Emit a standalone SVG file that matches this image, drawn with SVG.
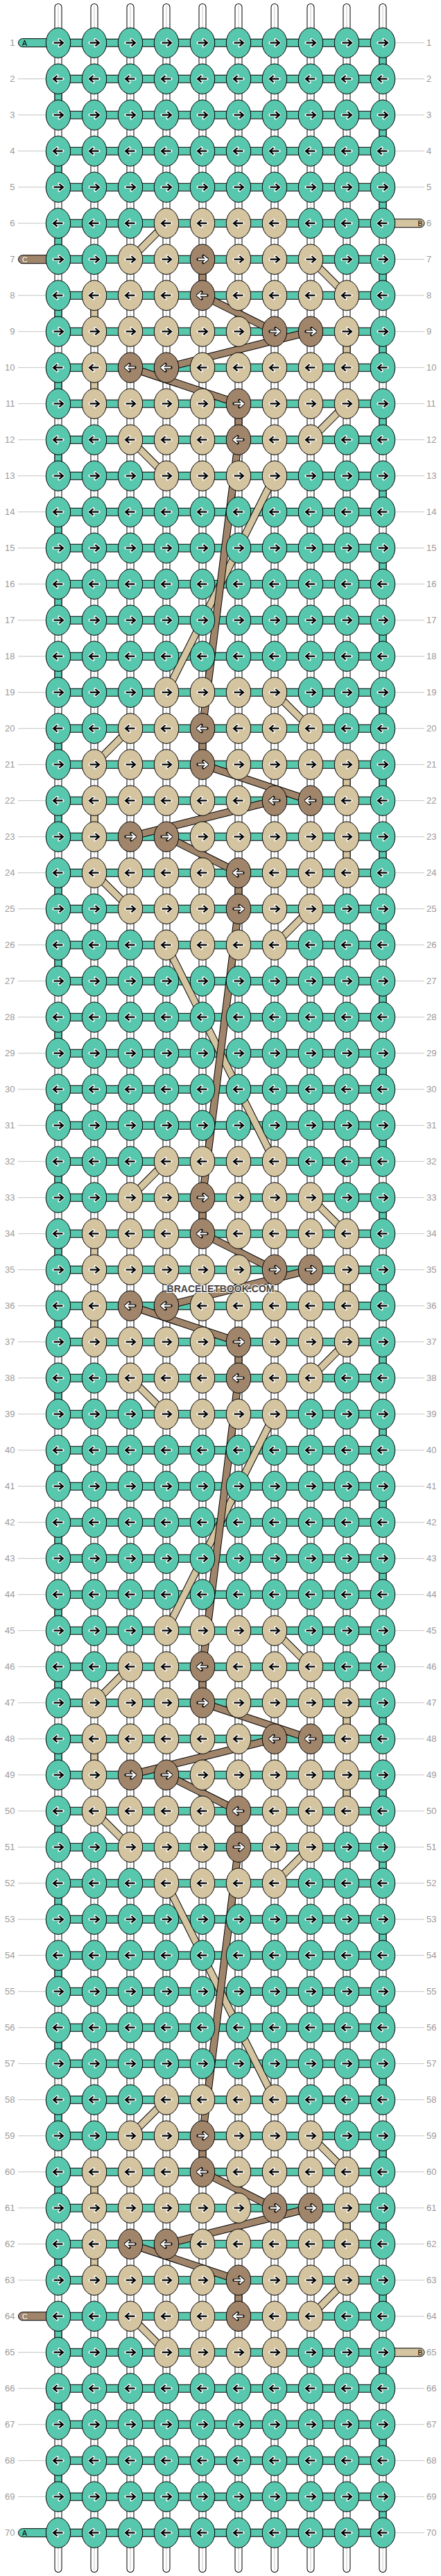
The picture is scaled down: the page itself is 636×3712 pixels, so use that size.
<svg xmlns="http://www.w3.org/2000/svg" xmlns:xlink="http://www.w3.org/1999/xlink" width="636" height="3712" viewBox="0 0 636 3712">
<style>
.lb text{font-family:"Liberation Sans",Arial,sans-serif;font-size:13px;fill:#9a9a9a}
.gl{fill:none;stroke:#c4c4c4;stroke-width:1}
.so{fill:none;stroke:#000;stroke-width:11;stroke-linecap:round}
.si{fill:none;stroke:#fff;stroke-width:9;stroke-linecap:round}
.sc{fill:none;stroke:#c8c8c8;stroke-width:1}
.ho{fill:none;stroke:#000;stroke-width:12}
.hi{fill:none;stroke:#57c7ad;stroke-width:10}
.vo{fill:none;stroke:#000;stroke-width:11}
.vt{fill:none;stroke:#57c7ad;stroke-width:9}
.vb{fill:none;stroke:#d4c4a0;stroke-width:9}
.vc{fill:none;stroke:#a0856b;stroke-width:9}
.stA{fill:#57c7ad;stroke:#000}
.stB{fill:#d4c4a0;stroke:#000}
.stC{fill:#a0856b;stroke:#000}
.st{font-family:"Liberation Sans",Arial,sans-serif;font-size:10.5px}
.et{fill:#57c7ad;stroke:#000}
.eb{fill:#d4c4a0;stroke:#000}
.ec{fill:#a0856b;stroke:#000}
.h{fill:none;stroke:#fff;stroke-width:4.2;stroke-linejoin:round;stroke-linecap:round}
.a{fill:none;stroke:#000;stroke-width:2.2}
.hw{fill:none;stroke:#000;stroke-width:4.2;stroke-linejoin:round;stroke-linecap:round}
.aw{fill:none;stroke:#fff;stroke-width:2.2}
.wm{font-family:"Liberation Sans",Arial,sans-serif;font-size:15px;font-weight:bold;fill:#444;stroke:#fff;stroke-width:2;paint-order:stroke}
</style>
<defs>
<path id="pr" d="M-6.5,0H6.3M1.4,-4.7L7,0L1.4,4.7"/>
<path id="pl" d="M6.5,0H-6.3M-1.4,-4.7L-7,0L-1.4,4.7"/>
<g id="Tr"><ellipse class="et" rx="17.7" ry="21.7"/><use href="#pr" class="h"/><use href="#pr" class="a"/></g>
<g id="Tl"><ellipse class="et" rx="17.7" ry="21.7"/><use href="#pl" class="h"/><use href="#pl" class="a"/></g>
<g id="Br"><ellipse class="eb" rx="17.7" ry="21.7"/><use href="#pr" class="h"/><use href="#pr" class="a"/></g>
<g id="Bl"><ellipse class="eb" rx="17.7" ry="21.7"/><use href="#pl" class="h"/><use href="#pl" class="a"/></g>
<g id="Cr"><ellipse class="ec" rx="17.7" ry="21.7"/><use href="#pr" class="hw"/><use href="#pr" class="aw"/></g>
<g id="Cl"><ellipse class="ec" rx="17.7" ry="21.7"/><use href="#pl" class="hw"/><use href="#pl" class="aw"/></g>
<path id="hpath" d="M84,61.7h468
m-468,52h468m-468,52h468m-468,52h468m-468,52h468m-468,52h468m-468,52h468m-468,52h468m-468,52h468m-468,52h468m-468,52h468
m-468,52h468m-468,52h468m-468,52h468m-468,52h468m-468,52h468m-468,52h468m-468,52h468m-468,52h468m-468,52h468m-468,52h468
m-468,52h468m-468,52h468m-468,52h468m-468,52h468m-468,52h468m-468,52h468m-468,52h468m-468,52h468m-468,52h468m-468,52h468
m-468,52h468m-468,52h468m-468,52h468m-468,52h468m-468,52h468m-468,52h468m-468,52h468m-468,52h468m-468,52h468m-468,52h468
m-468,52h468m-468,52h468m-468,52h468m-468,52h468m-468,52h468m-468,52h468m-468,52h468m-468,52h468m-468,52h468m-468,52h468
m-468,52h468m-468,52h468m-468,52h468m-468,52h468m-468,52h468m-468,52h468m-468,52h468m-468,52h468m-468,52h468m-468,52h468
m-468,52h468m-468,52h468m-468,52h468m-468,52h468m-468,52h468m-468,52h468m-468,52h468m-468,52h468m-468,52h468"/>
<path id="tpath" d="M552,61.7v52
m-468,0v52m468,0v52 m-468,0v52m468,0v52 m-468,0v52m468,0v52 m-468,0v52m468,0v52 m-468,0v52m468,0v52 m-468,0v52m468,0v52 m-468,0v52m468,0v52 m-468,0v52m468,0v52 m-468,0v52m468,0v52 m-468,0v52m468,0v52
m-468,0v52m468,0v52 m-468,0v52m468,0v52 m-468,0v52m468,0v52 m-468,0v52m468,0v52 m-468,0v52m468,0v52 m-468,0v52m468,0v52 m-468,0v52m468,0v52 m-468,0v52m468,0v52 m-468,0v52m468,0v52 m-468,0v52m468,0v52
m-468,0v52m468,0v52 m-468,0v52m468,0v52 m-468,0v52m468,0v52 m-468,0v52m468,0v52 m-468,0v52m468,0v52 m-468,0v52m468,0v52 m-468,0v52m468,0v52 m-468,0v52m468,0v52 m-468,0v52m468,0v52 m-468,0v52m468,0v52
m-468,0v52m468,0v52 m-468,0v52m468,0v52 m-468,0v52m468,0v52 m-468,0v52m468,0v52"/>
<path id="bpath" d="M240,321.7L188,373.7M448,373.7L500,425.7M136,425.7V477.7M500,477.7V529.7M136,529.7V581.7M500,581.7L448,633.7M188,633.7L240,685.7M396,685.7L240,997.7
M396,997.7L448,1049.7M188,1049.7L136,1101.7M500,1101.7V1153.7M136,1153.7V1205.7M500,1205.7V1257.7M136,1257.7L188,1309.7M448,1309.7L396,1361.7M240,1361.7L396,1673.7
M240,1673.7L188,1725.7M448,1725.7L500,1777.7M136,1777.7V1829.7M500,1829.7V1881.7M136,1881.7V1933.7M500,1933.7L448,1985.7M188,1985.7L240,2037.7M396,2037.7L240,2349.7
M396,2349.7L448,2401.7M188,2401.7L136,2453.7M500,2453.7V2505.7M136,2505.7V2557.7M500,2557.7V2609.7M136,2609.7L188,2661.7M448,2661.7L396,2713.7M240,2713.7L396,3025.7
M240,3025.7L188,3077.7M448,3077.7L500,3129.7M136,3129.7V3181.7M500,3181.7V3233.7M136,3233.7V3285.7M500,3285.7L448,3337.7M188,3337.7L240,3389.7"/>
<path id="cpath" d="M292,373.7V425.7L396,477.7M448,477.7L240,529.7M188,529.7L344,581.7V633.7L292,1049.7V1101.7L448,1153.7M396,1153.7L188,1205.7M240,1205.7L344,1257.7V1309.7L292,1725.7V1777.7L396,1829.7M448,1829.7L240,1881.7M188,1881.7L344,1933.7V1985.7L292,2401.7V2453.7L448,2505.7M396,2505.7L188,2557.7M240,2557.7L344,2609.7V2661.7L292,3077.7V3129.7L396,3181.7M448,3181.7L240,3233.7M188,3233.7L344,3285.7V3337.7"/>
</defs>
<rect width="636" height="3712" fill="#fff"/>
<path class="gl" d="M26,61.7h40m504,0h42
m-586,52h40m504,0h42m-586,52h40m504,0h42m-586,52h40m504,0h42m-586,52h40m504,0h42m-586,52h40m504,0h42m-586,52h40m504,0h42m-586,52h40m504,0h42m-586,52h40m504,0h42m-586,52h40m504,0h42m-586,52h40m504,0h42
m-586,52h40m504,0h42m-586,52h40m504,0h42m-586,52h40m504,0h42m-586,52h40m504,0h42m-586,52h40m504,0h42m-586,52h40m504,0h42m-586,52h40m504,0h42m-586,52h40m504,0h42m-586,52h40m504,0h42m-586,52h40m504,0h42
m-586,52h40m504,0h42m-586,52h40m504,0h42m-586,52h40m504,0h42m-586,52h40m504,0h42m-586,52h40m504,0h42m-586,52h40m504,0h42m-586,52h40m504,0h42m-586,52h40m504,0h42m-586,52h40m504,0h42m-586,52h40m504,0h42
m-586,52h40m504,0h42m-586,52h40m504,0h42m-586,52h40m504,0h42m-586,52h40m504,0h42m-586,52h40m504,0h42m-586,52h40m504,0h42m-586,52h40m504,0h42m-586,52h40m504,0h42m-586,52h40m504,0h42m-586,52h40m504,0h42
m-586,52h40m504,0h42m-586,52h40m504,0h42m-586,52h40m504,0h42m-586,52h40m504,0h42m-586,52h40m504,0h42m-586,52h40m504,0h42m-586,52h40m504,0h42m-586,52h40m504,0h42m-586,52h40m504,0h42m-586,52h40m504,0h42
m-586,52h40m504,0h42m-586,52h40m504,0h42m-586,52h40m504,0h42m-586,52h40m504,0h42m-586,52h40m504,0h42m-586,52h40m504,0h42m-586,52h40m504,0h42m-586,52h40m504,0h42m-586,52h40m504,0h42m-586,52h40m504,0h42
m-586,52h40m504,0h42m-586,52h40m504,0h42m-586,52h40m504,0h42m-586,52h40m504,0h42m-586,52h40m504,0h42m-586,52h40m504,0h42m-586,52h40m504,0h42m-586,52h40m504,0h42m-586,52h40m504,0h42"/>
<g class="lb" id="labels-left" text-anchor="end">
<text x="21.5" y="66.2">1</text><text x="21.5" y="118.2">2</text><text x="21.5" y="170.2">3</text><text x="21.5" y="222.2">4</text><text x="21.5" y="274.2">5</text><text x="21.5" y="326.2">6</text><text x="21.5" y="378.2">7</text><text x="21.5" y="430.2">8</text><text x="21.5" y="482.2">9</text><text x="21.5" y="534.2">10</text>
<text x="21.5" y="586.2">11</text><text x="21.5" y="638.2">12</text><text x="21.5" y="690.2">13</text><text x="21.5" y="742.2">14</text><text x="21.5" y="794.2">15</text><text x="21.5" y="846.2">16</text><text x="21.5" y="898.2">17</text><text x="21.5" y="950.2">18</text><text x="21.5" y="1002.2">19</text><text x="21.5" y="1054.2">20</text>
<text x="21.5" y="1106.2">21</text><text x="21.5" y="1158.2">22</text><text x="21.5" y="1210.2">23</text><text x="21.5" y="1262.2">24</text><text x="21.5" y="1314.2">25</text><text x="21.5" y="1366.2">26</text><text x="21.5" y="1418.2">27</text><text x="21.5" y="1470.2">28</text><text x="21.5" y="1522.2">29</text><text x="21.5" y="1574.2">30</text>
<text x="21.5" y="1626.2">31</text><text x="21.5" y="1678.2">32</text><text x="21.5" y="1730.2">33</text><text x="21.5" y="1782.2">34</text><text x="21.5" y="1834.2">35</text><text x="21.5" y="1886.2">36</text><text x="21.5" y="1938.2">37</text><text x="21.5" y="1990.2">38</text><text x="21.5" y="2042.2">39</text><text x="21.5" y="2094.2">40</text>
<text x="21.5" y="2146.2">41</text><text x="21.5" y="2198.2">42</text><text x="21.5" y="2250.2">43</text><text x="21.5" y="2302.2">44</text><text x="21.5" y="2354.2">45</text><text x="21.5" y="2406.2">46</text><text x="21.5" y="2458.2">47</text><text x="21.5" y="2510.2">48</text><text x="21.5" y="2562.2">49</text><text x="21.5" y="2614.2">50</text>
<text x="21.5" y="2666.2">51</text><text x="21.5" y="2718.2">52</text><text x="21.5" y="2770.2">53</text><text x="21.5" y="2822.2">54</text><text x="21.5" y="2874.2">55</text><text x="21.5" y="2926.2">56</text><text x="21.5" y="2978.2">57</text><text x="21.5" y="3030.2">58</text><text x="21.5" y="3082.2">59</text><text x="21.5" y="3134.2">60</text>
<text x="21.5" y="3186.2">61</text><text x="21.5" y="3238.2">62</text><text x="21.5" y="3290.2">63</text><text x="21.5" y="3342.2">64</text><text x="21.5" y="3394.2">65</text><text x="21.5" y="3446.2">66</text><text x="21.5" y="3498.2">67</text><text x="21.5" y="3550.2">68</text><text x="21.5" y="3602.2">69</text><text x="21.5" y="3654.2">70</text>
</g>
<g class="lb" id="labels-right" text-anchor="start">
<text x="615" y="66.2">1</text><text x="615" y="118.2">2</text><text x="615" y="170.2">3</text><text x="615" y="222.2">4</text><text x="615" y="274.2">5</text><text x="615" y="326.2">6</text><text x="615" y="378.2">7</text><text x="615" y="430.2">8</text><text x="615" y="482.2">9</text><text x="615" y="534.2">10</text>
<text x="615" y="586.2">11</text><text x="615" y="638.2">12</text><text x="615" y="690.2">13</text><text x="615" y="742.2">14</text><text x="615" y="794.2">15</text><text x="615" y="846.2">16</text><text x="615" y="898.2">17</text><text x="615" y="950.2">18</text><text x="615" y="1002.2">19</text><text x="615" y="1054.2">20</text>
<text x="615" y="1106.2">21</text><text x="615" y="1158.2">22</text><text x="615" y="1210.2">23</text><text x="615" y="1262.2">24</text><text x="615" y="1314.2">25</text><text x="615" y="1366.2">26</text><text x="615" y="1418.2">27</text><text x="615" y="1470.2">28</text><text x="615" y="1522.2">29</text><text x="615" y="1574.2">30</text>
<text x="615" y="1626.2">31</text><text x="615" y="1678.2">32</text><text x="615" y="1730.2">33</text><text x="615" y="1782.2">34</text><text x="615" y="1834.2">35</text><text x="615" y="1886.2">36</text><text x="615" y="1938.2">37</text><text x="615" y="1990.2">38</text><text x="615" y="2042.2">39</text><text x="615" y="2094.2">40</text>
<text x="615" y="2146.2">41</text><text x="615" y="2198.2">42</text><text x="615" y="2250.2">43</text><text x="615" y="2302.2">44</text><text x="615" y="2354.2">45</text><text x="615" y="2406.2">46</text><text x="615" y="2458.2">47</text><text x="615" y="2510.2">48</text><text x="615" y="2562.2">49</text><text x="615" y="2614.2">50</text>
<text x="615" y="2666.2">51</text><text x="615" y="2718.2">52</text><text x="615" y="2770.2">53</text><text x="615" y="2822.2">54</text><text x="615" y="2874.2">55</text><text x="615" y="2926.2">56</text><text x="615" y="2978.2">57</text><text x="615" y="3030.2">58</text><text x="615" y="3082.2">59</text><text x="615" y="3134.2">60</text>
<text x="615" y="3186.2">61</text><text x="615" y="3238.2">62</text><text x="615" y="3290.2">63</text><text x="615" y="3342.2">64</text><text x="615" y="3394.2">65</text><text x="615" y="3446.2">66</text><text x="615" y="3498.2">67</text><text x="615" y="3550.2">68</text><text x="615" y="3602.2">69</text><text x="615" y="3654.2">70</text>
</g>
<g id="strings">
<path class="so" d="M84,10.5V3701.5M136,10.5V3701.5M188,10.5V3701.5M240,10.5V3701.5M292,10.5V3701.5M344,10.5V3701.5M396,10.5V3701.5M448,10.5V3701.5M500,10.5V3701.5M552,10.5V3701.5"/>
<path class="si" d="M84,10.5V3701.5M136,10.5V3701.5M188,10.5V3701.5M240,10.5V3701.5M292,10.5V3701.5M344,10.5V3701.5M396,10.5V3701.5M448,10.5V3701.5M500,10.5V3701.5M552,10.5V3701.5"/>
<path class="sc" d="M84,8V3704M136,8V3704M188,8V3704M240,8V3704M292,8V3704M344,8V3704M396,8V3704M448,8V3704M500,8V3704M552,8V3704"/>
</g>
<g id="connectors">
<use href="#hpath" class="ho"/><use href="#hpath" class="hi"/>
<use href="#tpath" class="vo"/><use href="#tpath" class="vt"/>
<use href="#bpath" class="vo"/><use href="#bpath" class="vb"/>
<use href="#cpath" class="vo"/><use href="#cpath" class="vc"/>
<g id="stub-A1"><rect class="stA" x="26.5" y="55.7" width="58" height="12" rx="6"/><text class="st" x="32" y="65.6" fill="#000">A</text></g>
<g id="stub-A70"><rect class="stA" x="26.5" y="3643.7" width="58" height="12" rx="6"/><text class="st" x="32" y="3653.6" fill="#000">A</text></g>
<g id="stub-B6"><rect class="stB" x="551.5" y="315.7" width="60.5" height="12" rx="6"/><text class="st" x="609.5" y="325.6" fill="#000" text-anchor="end">B</text></g>
<g id="stub-B65"><rect class="stB" x="551.5" y="3383.7" width="60.5" height="12" rx="6"/><text class="st" x="609.5" y="3393.6" fill="#000" text-anchor="end">B</text></g>
<g id="stub-C7"><rect class="stC" x="26.5" y="367.7" width="58" height="12" rx="6"/><text class="st" x="32" y="377.6" fill="#fff">C</text></g>
<g id="stub-C64"><rect class="stC" x="26.5" y="3331.7" width="58" height="12" rx="6"/><text class="st" x="32" y="3341.6" fill="#fff">C</text></g>
</g>
<g id="knots">
<g transform="translate(0,61.7)"><g id="k1-1"><use href="#Tr" x="84"/></g><g id="k1-2"><use href="#Tr" x="136"/></g><g id="k1-3"><use href="#Tr" x="188"/></g><g id="k1-4"><use href="#Tr" x="240"/></g><g id="k1-5"><use href="#Tr" x="292"/></g><g id="k1-6"><use href="#Tr" x="344"/></g><g id="k1-7"><use href="#Tr" x="396"/></g><g id="k1-8"><use href="#Tr" x="448"/></g><g id="k1-9"><use href="#Tr" x="500"/></g><g id="k1-10"><use href="#Tr" x="552"/></g></g>
<g transform="translate(0,113.7)"><g id="k2-1"><use href="#Tl" x="84"/></g><g id="k2-2"><use href="#Tl" x="136"/></g><g id="k2-3"><use href="#Tl" x="188"/></g><g id="k2-4"><use href="#Tl" x="240"/></g><g id="k2-5"><use href="#Tl" x="292"/></g><g id="k2-6"><use href="#Tl" x="344"/></g><g id="k2-7"><use href="#Tl" x="396"/></g><g id="k2-8"><use href="#Tl" x="448"/></g><g id="k2-9"><use href="#Tl" x="500"/></g><g id="k2-10"><use href="#Tl" x="552"/></g></g>
<g transform="translate(0,165.7)"><g id="k3-1"><use href="#Tr" x="84"/></g><g id="k3-2"><use href="#Tr" x="136"/></g><g id="k3-3"><use href="#Tr" x="188"/></g><g id="k3-4"><use href="#Tr" x="240"/></g><g id="k3-5"><use href="#Tr" x="292"/></g><g id="k3-6"><use href="#Tr" x="344"/></g><g id="k3-7"><use href="#Tr" x="396"/></g><g id="k3-8"><use href="#Tr" x="448"/></g><g id="k3-9"><use href="#Tr" x="500"/></g><g id="k3-10"><use href="#Tr" x="552"/></g></g>
<g transform="translate(0,217.7)"><g id="k4-1"><use href="#Tl" x="84"/></g><g id="k4-2"><use href="#Tl" x="136"/></g><g id="k4-3"><use href="#Tl" x="188"/></g><g id="k4-4"><use href="#Tl" x="240"/></g><g id="k4-5"><use href="#Tl" x="292"/></g><g id="k4-6"><use href="#Tl" x="344"/></g><g id="k4-7"><use href="#Tl" x="396"/></g><g id="k4-8"><use href="#Tl" x="448"/></g><g id="k4-9"><use href="#Tl" x="500"/></g><g id="k4-10"><use href="#Tl" x="552"/></g></g>
<g transform="translate(0,269.7)"><g id="k5-1"><use href="#Tr" x="84"/></g><g id="k5-2"><use href="#Tr" x="136"/></g><g id="k5-3"><use href="#Tr" x="188"/></g><g id="k5-4"><use href="#Tr" x="240"/></g><g id="k5-5"><use href="#Tr" x="292"/></g><g id="k5-6"><use href="#Tr" x="344"/></g><g id="k5-7"><use href="#Tr" x="396"/></g><g id="k5-8"><use href="#Tr" x="448"/></g><g id="k5-9"><use href="#Tr" x="500"/></g><g id="k5-10"><use href="#Tr" x="552"/></g></g>
<g transform="translate(0,321.7)"><g id="k6-1"><use href="#Tl" x="84"/></g><g id="k6-2"><use href="#Tl" x="136"/></g><g id="k6-3"><use href="#Tl" x="188"/></g><g id="k6-4"><use href="#Bl" x="240"/></g><g id="k6-5"><use href="#Bl" x="292"/></g><g id="k6-6"><use href="#Bl" x="344"/></g><g id="k6-7"><use href="#Bl" x="396"/></g><g id="k6-8"><use href="#Tl" x="448"/></g><g id="k6-9"><use href="#Tl" x="500"/></g><g id="k6-10"><use href="#Tl" x="552"/></g></g>
<g transform="translate(0,373.7)"><g id="k7-1"><use href="#Tr" x="84"/></g><g id="k7-2"><use href="#Tr" x="136"/></g><g id="k7-3"><use href="#Br" x="188"/></g><g id="k7-4"><use href="#Br" x="240"/></g><g id="k7-5"><use href="#Cr" x="292"/></g><g id="k7-6"><use href="#Br" x="344"/></g><g id="k7-7"><use href="#Br" x="396"/></g><g id="k7-8"><use href="#Br" x="448"/></g><g id="k7-9"><use href="#Tr" x="500"/></g><g id="k7-10"><use href="#Tr" x="552"/></g></g>
<g transform="translate(0,425.7)"><g id="k8-1"><use href="#Tl" x="84"/></g><g id="k8-2"><use href="#Bl" x="136"/></g><g id="k8-3"><use href="#Bl" x="188"/></g><g id="k8-4"><use href="#Bl" x="240"/></g><g id="k8-5"><use href="#Cl" x="292"/></g><g id="k8-6"><use href="#Bl" x="344"/></g><g id="k8-7"><use href="#Bl" x="396"/></g><g id="k8-8"><use href="#Bl" x="448"/></g><g id="k8-9"><use href="#Bl" x="500"/></g><g id="k8-10"><use href="#Tl" x="552"/></g></g>
<g transform="translate(0,477.7)"><g id="k9-1"><use href="#Tr" x="84"/></g><g id="k9-2"><use href="#Br" x="136"/></g><g id="k9-3"><use href="#Br" x="188"/></g><g id="k9-4"><use href="#Br" x="240"/></g><g id="k9-5"><use href="#Br" x="292"/></g><g id="k9-6"><use href="#Br" x="344"/></g><g id="k9-7"><use href="#Cr" x="396"/></g><g id="k9-8"><use href="#Cr" x="448"/></g><g id="k9-9"><use href="#Br" x="500"/></g><g id="k9-10"><use href="#Tr" x="552"/></g></g>
<g transform="translate(0,529.7)"><g id="k10-1"><use href="#Tl" x="84"/></g><g id="k10-2"><use href="#Bl" x="136"/></g><g id="k10-3"><use href="#Cl" x="188"/></g><g id="k10-4"><use href="#Cl" x="240"/></g><g id="k10-5"><use href="#Bl" x="292"/></g><g id="k10-6"><use href="#Bl" x="344"/></g><g id="k10-7"><use href="#Bl" x="396"/></g><g id="k10-8"><use href="#Bl" x="448"/></g><g id="k10-9"><use href="#Bl" x="500"/></g><g id="k10-10"><use href="#Tl" x="552"/></g></g>
<g transform="translate(0,581.7)"><g id="k11-1"><use href="#Tr" x="84"/></g><g id="k11-2"><use href="#Br" x="136"/></g><g id="k11-3"><use href="#Br" x="188"/></g><g id="k11-4"><use href="#Br" x="240"/></g><g id="k11-5"><use href="#Br" x="292"/></g><g id="k11-6"><use href="#Cr" x="344"/></g><g id="k11-7"><use href="#Br" x="396"/></g><g id="k11-8"><use href="#Br" x="448"/></g><g id="k11-9"><use href="#Br" x="500"/></g><g id="k11-10"><use href="#Tr" x="552"/></g></g>
<g transform="translate(0,633.7)"><g id="k12-1"><use href="#Tl" x="84"/></g><g id="k12-2"><use href="#Tl" x="136"/></g><g id="k12-3"><use href="#Bl" x="188"/></g><g id="k12-4"><use href="#Bl" x="240"/></g><g id="k12-5"><use href="#Bl" x="292"/></g><g id="k12-6"><use href="#Cl" x="344"/></g><g id="k12-7"><use href="#Bl" x="396"/></g><g id="k12-8"><use href="#Bl" x="448"/></g><g id="k12-9"><use href="#Tl" x="500"/></g><g id="k12-10"><use href="#Tl" x="552"/></g></g>
<g transform="translate(0,685.7)"><g id="k13-1"><use href="#Tr" x="84"/></g><g id="k13-2"><use href="#Tr" x="136"/></g><g id="k13-3"><use href="#Tr" x="188"/></g><g id="k13-4"><use href="#Br" x="240"/></g><g id="k13-5"><use href="#Br" x="292"/></g><g id="k13-6"><use href="#Br" x="344"/></g><g id="k13-7"><use href="#Br" x="396"/></g><g id="k13-8"><use href="#Tr" x="448"/></g><g id="k13-9"><use href="#Tr" x="500"/></g><g id="k13-10"><use href="#Tr" x="552"/></g></g>
<g transform="translate(0,737.7)"><g id="k14-1"><use href="#Tl" x="84"/></g><g id="k14-2"><use href="#Tl" x="136"/></g><g id="k14-3"><use href="#Tl" x="188"/></g><g id="k14-4"><use href="#Tl" x="240"/></g><g id="k14-5"><use href="#Tl" x="292"/></g><g id="k14-6"><use href="#Tl" x="344"/></g><g id="k14-7"><use href="#Tl" x="396"/></g><g id="k14-8"><use href="#Tl" x="448"/></g><g id="k14-9"><use href="#Tl" x="500"/></g><g id="k14-10"><use href="#Tl" x="552"/></g></g>
<g transform="translate(0,789.7)"><g id="k15-1"><use href="#Tr" x="84"/></g><g id="k15-2"><use href="#Tr" x="136"/></g><g id="k15-3"><use href="#Tr" x="188"/></g><g id="k15-4"><use href="#Tr" x="240"/></g><g id="k15-5"><use href="#Tr" x="292"/></g><g id="k15-6"><use href="#Tr" x="344"/></g><g id="k15-7"><use href="#Tr" x="396"/></g><g id="k15-8"><use href="#Tr" x="448"/></g><g id="k15-9"><use href="#Tr" x="500"/></g><g id="k15-10"><use href="#Tr" x="552"/></g></g>
<g transform="translate(0,841.7)"><g id="k16-1"><use href="#Tl" x="84"/></g><g id="k16-2"><use href="#Tl" x="136"/></g><g id="k16-3"><use href="#Tl" x="188"/></g><g id="k16-4"><use href="#Tl" x="240"/></g><g id="k16-5"><use href="#Tl" x="292"/></g><g id="k16-6"><use href="#Tl" x="344"/></g><g id="k16-7"><use href="#Tl" x="396"/></g><g id="k16-8"><use href="#Tl" x="448"/></g><g id="k16-9"><use href="#Tl" x="500"/></g><g id="k16-10"><use href="#Tl" x="552"/></g></g>
<g transform="translate(0,893.7)"><g id="k17-1"><use href="#Tr" x="84"/></g><g id="k17-2"><use href="#Tr" x="136"/></g><g id="k17-3"><use href="#Tr" x="188"/></g><g id="k17-4"><use href="#Tr" x="240"/></g><g id="k17-5"><use href="#Tr" x="292"/></g><g id="k17-6"><use href="#Tr" x="344"/></g><g id="k17-7"><use href="#Tr" x="396"/></g><g id="k17-8"><use href="#Tr" x="448"/></g><g id="k17-9"><use href="#Tr" x="500"/></g><g id="k17-10"><use href="#Tr" x="552"/></g></g>
<g transform="translate(0,945.7)"><g id="k18-1"><use href="#Tl" x="84"/></g><g id="k18-2"><use href="#Tl" x="136"/></g><g id="k18-3"><use href="#Tl" x="188"/></g><g id="k18-4"><use href="#Tl" x="240"/></g><g id="k18-5"><use href="#Tl" x="292"/></g><g id="k18-6"><use href="#Tl" x="344"/></g><g id="k18-7"><use href="#Tl" x="396"/></g><g id="k18-8"><use href="#Tl" x="448"/></g><g id="k18-9"><use href="#Tl" x="500"/></g><g id="k18-10"><use href="#Tl" x="552"/></g></g>
<g transform="translate(0,997.7)"><g id="k19-1"><use href="#Tr" x="84"/></g><g id="k19-2"><use href="#Tr" x="136"/></g><g id="k19-3"><use href="#Tr" x="188"/></g><g id="k19-4"><use href="#Br" x="240"/></g><g id="k19-5"><use href="#Br" x="292"/></g><g id="k19-6"><use href="#Br" x="344"/></g><g id="k19-7"><use href="#Br" x="396"/></g><g id="k19-8"><use href="#Tr" x="448"/></g><g id="k19-9"><use href="#Tr" x="500"/></g><g id="k19-10"><use href="#Tr" x="552"/></g></g>
<g transform="translate(0,1049.7)"><g id="k20-1"><use href="#Tl" x="84"/></g><g id="k20-2"><use href="#Tl" x="136"/></g><g id="k20-3"><use href="#Bl" x="188"/></g><g id="k20-4"><use href="#Bl" x="240"/></g><g id="k20-5"><use href="#Cl" x="292"/></g><g id="k20-6"><use href="#Bl" x="344"/></g><g id="k20-7"><use href="#Bl" x="396"/></g><g id="k20-8"><use href="#Bl" x="448"/></g><g id="k20-9"><use href="#Tl" x="500"/></g><g id="k20-10"><use href="#Tl" x="552"/></g></g>
<g transform="translate(0,1101.7)"><g id="k21-1"><use href="#Tr" x="84"/></g><g id="k21-2"><use href="#Br" x="136"/></g><g id="k21-3"><use href="#Br" x="188"/></g><g id="k21-4"><use href="#Br" x="240"/></g><g id="k21-5"><use href="#Cr" x="292"/></g><g id="k21-6"><use href="#Br" x="344"/></g><g id="k21-7"><use href="#Br" x="396"/></g><g id="k21-8"><use href="#Br" x="448"/></g><g id="k21-9"><use href="#Br" x="500"/></g><g id="k21-10"><use href="#Tr" x="552"/></g></g>
<g transform="translate(0,1153.7)"><g id="k22-1"><use href="#Tl" x="84"/></g><g id="k22-2"><use href="#Bl" x="136"/></g><g id="k22-3"><use href="#Bl" x="188"/></g><g id="k22-4"><use href="#Bl" x="240"/></g><g id="k22-5"><use href="#Bl" x="292"/></g><g id="k22-6"><use href="#Bl" x="344"/></g><g id="k22-7"><use href="#Cl" x="396"/></g><g id="k22-8"><use href="#Cl" x="448"/></g><g id="k22-9"><use href="#Bl" x="500"/></g><g id="k22-10"><use href="#Tl" x="552"/></g></g>
<g transform="translate(0,1205.7)"><g id="k23-1"><use href="#Tr" x="84"/></g><g id="k23-2"><use href="#Br" x="136"/></g><g id="k23-3"><use href="#Cr" x="188"/></g><g id="k23-4"><use href="#Cr" x="240"/></g><g id="k23-5"><use href="#Br" x="292"/></g><g id="k23-6"><use href="#Br" x="344"/></g><g id="k23-7"><use href="#Br" x="396"/></g><g id="k23-8"><use href="#Br" x="448"/></g><g id="k23-9"><use href="#Br" x="500"/></g><g id="k23-10"><use href="#Tr" x="552"/></g></g>
<g transform="translate(0,1257.7)"><g id="k24-1"><use href="#Tl" x="84"/></g><g id="k24-2"><use href="#Bl" x="136"/></g><g id="k24-3"><use href="#Bl" x="188"/></g><g id="k24-4"><use href="#Bl" x="240"/></g><g id="k24-5"><use href="#Bl" x="292"/></g><g id="k24-6"><use href="#Cl" x="344"/></g><g id="k24-7"><use href="#Bl" x="396"/></g><g id="k24-8"><use href="#Bl" x="448"/></g><g id="k24-9"><use href="#Bl" x="500"/></g><g id="k24-10"><use href="#Tl" x="552"/></g></g>
<g transform="translate(0,1309.7)"><g id="k25-1"><use href="#Tr" x="84"/></g><g id="k25-2"><use href="#Tr" x="136"/></g><g id="k25-3"><use href="#Br" x="188"/></g><g id="k25-4"><use href="#Br" x="240"/></g><g id="k25-5"><use href="#Br" x="292"/></g><g id="k25-6"><use href="#Cr" x="344"/></g><g id="k25-7"><use href="#Br" x="396"/></g><g id="k25-8"><use href="#Br" x="448"/></g><g id="k25-9"><use href="#Tr" x="500"/></g><g id="k25-10"><use href="#Tr" x="552"/></g></g>
<g transform="translate(0,1361.7)"><g id="k26-1"><use href="#Tl" x="84"/></g><g id="k26-2"><use href="#Tl" x="136"/></g><g id="k26-3"><use href="#Tl" x="188"/></g><g id="k26-4"><use href="#Bl" x="240"/></g><g id="k26-5"><use href="#Bl" x="292"/></g><g id="k26-6"><use href="#Bl" x="344"/></g><g id="k26-7"><use href="#Bl" x="396"/></g><g id="k26-8"><use href="#Tl" x="448"/></g><g id="k26-9"><use href="#Tl" x="500"/></g><g id="k26-10"><use href="#Tl" x="552"/></g></g>
<g transform="translate(0,1413.7)"><g id="k27-1"><use href="#Tr" x="84"/></g><g id="k27-2"><use href="#Tr" x="136"/></g><g id="k27-3"><use href="#Tr" x="188"/></g><g id="k27-4"><use href="#Tr" x="240"/></g><g id="k27-5"><use href="#Tr" x="292"/></g><g id="k27-6"><use href="#Tr" x="344"/></g><g id="k27-7"><use href="#Tr" x="396"/></g><g id="k27-8"><use href="#Tr" x="448"/></g><g id="k27-9"><use href="#Tr" x="500"/></g><g id="k27-10"><use href="#Tr" x="552"/></g></g>
<g transform="translate(0,1465.7)"><g id="k28-1"><use href="#Tl" x="84"/></g><g id="k28-2"><use href="#Tl" x="136"/></g><g id="k28-3"><use href="#Tl" x="188"/></g><g id="k28-4"><use href="#Tl" x="240"/></g><g id="k28-5"><use href="#Tl" x="292"/></g><g id="k28-6"><use href="#Tl" x="344"/></g><g id="k28-7"><use href="#Tl" x="396"/></g><g id="k28-8"><use href="#Tl" x="448"/></g><g id="k28-9"><use href="#Tl" x="500"/></g><g id="k28-10"><use href="#Tl" x="552"/></g></g>
<g transform="translate(0,1517.7)"><g id="k29-1"><use href="#Tr" x="84"/></g><g id="k29-2"><use href="#Tr" x="136"/></g><g id="k29-3"><use href="#Tr" x="188"/></g><g id="k29-4"><use href="#Tr" x="240"/></g><g id="k29-5"><use href="#Tr" x="292"/></g><g id="k29-6"><use href="#Tr" x="344"/></g><g id="k29-7"><use href="#Tr" x="396"/></g><g id="k29-8"><use href="#Tr" x="448"/></g><g id="k29-9"><use href="#Tr" x="500"/></g><g id="k29-10"><use href="#Tr" x="552"/></g></g>
<g transform="translate(0,1569.7)"><g id="k30-1"><use href="#Tl" x="84"/></g><g id="k30-2"><use href="#Tl" x="136"/></g><g id="k30-3"><use href="#Tl" x="188"/></g><g id="k30-4"><use href="#Tl" x="240"/></g><g id="k30-5"><use href="#Tl" x="292"/></g><g id="k30-6"><use href="#Tl" x="344"/></g><g id="k30-7"><use href="#Tl" x="396"/></g><g id="k30-8"><use href="#Tl" x="448"/></g><g id="k30-9"><use href="#Tl" x="500"/></g><g id="k30-10"><use href="#Tl" x="552"/></g></g>
<g transform="translate(0,1621.7)"><g id="k31-1"><use href="#Tr" x="84"/></g><g id="k31-2"><use href="#Tr" x="136"/></g><g id="k31-3"><use href="#Tr" x="188"/></g><g id="k31-4"><use href="#Tr" x="240"/></g><g id="k31-5"><use href="#Tr" x="292"/></g><g id="k31-6"><use href="#Tr" x="344"/></g><g id="k31-7"><use href="#Tr" x="396"/></g><g id="k31-8"><use href="#Tr" x="448"/></g><g id="k31-9"><use href="#Tr" x="500"/></g><g id="k31-10"><use href="#Tr" x="552"/></g></g>
<g transform="translate(0,1673.7)"><g id="k32-1"><use href="#Tl" x="84"/></g><g id="k32-2"><use href="#Tl" x="136"/></g><g id="k32-3"><use href="#Tl" x="188"/></g><g id="k32-4"><use href="#Bl" x="240"/></g><g id="k32-5"><use href="#Bl" x="292"/></g><g id="k32-6"><use href="#Bl" x="344"/></g><g id="k32-7"><use href="#Bl" x="396"/></g><g id="k32-8"><use href="#Tl" x="448"/></g><g id="k32-9"><use href="#Tl" x="500"/></g><g id="k32-10"><use href="#Tl" x="552"/></g></g>
<g transform="translate(0,1725.7)"><g id="k33-1"><use href="#Tr" x="84"/></g><g id="k33-2"><use href="#Tr" x="136"/></g><g id="k33-3"><use href="#Br" x="188"/></g><g id="k33-4"><use href="#Br" x="240"/></g><g id="k33-5"><use href="#Cr" x="292"/></g><g id="k33-6"><use href="#Br" x="344"/></g><g id="k33-7"><use href="#Br" x="396"/></g><g id="k33-8"><use href="#Br" x="448"/></g><g id="k33-9"><use href="#Tr" x="500"/></g><g id="k33-10"><use href="#Tr" x="552"/></g></g>
<g transform="translate(0,1777.7)"><g id="k34-1"><use href="#Tl" x="84"/></g><g id="k34-2"><use href="#Bl" x="136"/></g><g id="k34-3"><use href="#Bl" x="188"/></g><g id="k34-4"><use href="#Bl" x="240"/></g><g id="k34-5"><use href="#Cl" x="292"/></g><g id="k34-6"><use href="#Bl" x="344"/></g><g id="k34-7"><use href="#Bl" x="396"/></g><g id="k34-8"><use href="#Bl" x="448"/></g><g id="k34-9"><use href="#Bl" x="500"/></g><g id="k34-10"><use href="#Tl" x="552"/></g></g>
<g transform="translate(0,1829.7)"><g id="k35-1"><use href="#Tr" x="84"/></g><g id="k35-2"><use href="#Br" x="136"/></g><g id="k35-3"><use href="#Br" x="188"/></g><g id="k35-4"><use href="#Br" x="240"/></g><g id="k35-5"><use href="#Br" x="292"/></g><g id="k35-6"><use href="#Br" x="344"/></g><g id="k35-7"><use href="#Cr" x="396"/></g><g id="k35-8"><use href="#Cr" x="448"/></g><g id="k35-9"><use href="#Br" x="500"/></g><g id="k35-10"><use href="#Tr" x="552"/></g></g>
<g transform="translate(0,1881.7)"><g id="k36-1"><use href="#Tl" x="84"/></g><g id="k36-2"><use href="#Bl" x="136"/></g><g id="k36-3"><use href="#Cl" x="188"/></g><g id="k36-4"><use href="#Cl" x="240"/></g><g id="k36-5"><use href="#Bl" x="292"/></g><g id="k36-6"><use href="#Bl" x="344"/></g><g id="k36-7"><use href="#Bl" x="396"/></g><g id="k36-8"><use href="#Bl" x="448"/></g><g id="k36-9"><use href="#Bl" x="500"/></g><g id="k36-10"><use href="#Tl" x="552"/></g></g>
<g transform="translate(0,1933.7)"><g id="k37-1"><use href="#Tr" x="84"/></g><g id="k37-2"><use href="#Br" x="136"/></g><g id="k37-3"><use href="#Br" x="188"/></g><g id="k37-4"><use href="#Br" x="240"/></g><g id="k37-5"><use href="#Br" x="292"/></g><g id="k37-6"><use href="#Cr" x="344"/></g><g id="k37-7"><use href="#Br" x="396"/></g><g id="k37-8"><use href="#Br" x="448"/></g><g id="k37-9"><use href="#Br" x="500"/></g><g id="k37-10"><use href="#Tr" x="552"/></g></g>
<g transform="translate(0,1985.7)"><g id="k38-1"><use href="#Tl" x="84"/></g><g id="k38-2"><use href="#Tl" x="136"/></g><g id="k38-3"><use href="#Bl" x="188"/></g><g id="k38-4"><use href="#Bl" x="240"/></g><g id="k38-5"><use href="#Bl" x="292"/></g><g id="k38-6"><use href="#Cl" x="344"/></g><g id="k38-7"><use href="#Bl" x="396"/></g><g id="k38-8"><use href="#Bl" x="448"/></g><g id="k38-9"><use href="#Tl" x="500"/></g><g id="k38-10"><use href="#Tl" x="552"/></g></g>
<g transform="translate(0,2037.7)"><g id="k39-1"><use href="#Tr" x="84"/></g><g id="k39-2"><use href="#Tr" x="136"/></g><g id="k39-3"><use href="#Tr" x="188"/></g><g id="k39-4"><use href="#Br" x="240"/></g><g id="k39-5"><use href="#Br" x="292"/></g><g id="k39-6"><use href="#Br" x="344"/></g><g id="k39-7"><use href="#Br" x="396"/></g><g id="k39-8"><use href="#Tr" x="448"/></g><g id="k39-9"><use href="#Tr" x="500"/></g><g id="k39-10"><use href="#Tr" x="552"/></g></g>
<g transform="translate(0,2089.7)"><g id="k40-1"><use href="#Tl" x="84"/></g><g id="k40-2"><use href="#Tl" x="136"/></g><g id="k40-3"><use href="#Tl" x="188"/></g><g id="k40-4"><use href="#Tl" x="240"/></g><g id="k40-5"><use href="#Tl" x="292"/></g><g id="k40-6"><use href="#Tl" x="344"/></g><g id="k40-7"><use href="#Tl" x="396"/></g><g id="k40-8"><use href="#Tl" x="448"/></g><g id="k40-9"><use href="#Tl" x="500"/></g><g id="k40-10"><use href="#Tl" x="552"/></g></g>
<g transform="translate(0,2141.7)"><g id="k41-1"><use href="#Tr" x="84"/></g><g id="k41-2"><use href="#Tr" x="136"/></g><g id="k41-3"><use href="#Tr" x="188"/></g><g id="k41-4"><use href="#Tr" x="240"/></g><g id="k41-5"><use href="#Tr" x="292"/></g><g id="k41-6"><use href="#Tr" x="344"/></g><g id="k41-7"><use href="#Tr" x="396"/></g><g id="k41-8"><use href="#Tr" x="448"/></g><g id="k41-9"><use href="#Tr" x="500"/></g><g id="k41-10"><use href="#Tr" x="552"/></g></g>
<g transform="translate(0,2193.7)"><g id="k42-1"><use href="#Tl" x="84"/></g><g id="k42-2"><use href="#Tl" x="136"/></g><g id="k42-3"><use href="#Tl" x="188"/></g><g id="k42-4"><use href="#Tl" x="240"/></g><g id="k42-5"><use href="#Tl" x="292"/></g><g id="k42-6"><use href="#Tl" x="344"/></g><g id="k42-7"><use href="#Tl" x="396"/></g><g id="k42-8"><use href="#Tl" x="448"/></g><g id="k42-9"><use href="#Tl" x="500"/></g><g id="k42-10"><use href="#Tl" x="552"/></g></g>
<g transform="translate(0,2245.7)"><g id="k43-1"><use href="#Tr" x="84"/></g><g id="k43-2"><use href="#Tr" x="136"/></g><g id="k43-3"><use href="#Tr" x="188"/></g><g id="k43-4"><use href="#Tr" x="240"/></g><g id="k43-5"><use href="#Tr" x="292"/></g><g id="k43-6"><use href="#Tr" x="344"/></g><g id="k43-7"><use href="#Tr" x="396"/></g><g id="k43-8"><use href="#Tr" x="448"/></g><g id="k43-9"><use href="#Tr" x="500"/></g><g id="k43-10"><use href="#Tr" x="552"/></g></g>
<g transform="translate(0,2297.7)"><g id="k44-1"><use href="#Tl" x="84"/></g><g id="k44-2"><use href="#Tl" x="136"/></g><g id="k44-3"><use href="#Tl" x="188"/></g><g id="k44-4"><use href="#Tl" x="240"/></g><g id="k44-5"><use href="#Tl" x="292"/></g><g id="k44-6"><use href="#Tl" x="344"/></g><g id="k44-7"><use href="#Tl" x="396"/></g><g id="k44-8"><use href="#Tl" x="448"/></g><g id="k44-9"><use href="#Tl" x="500"/></g><g id="k44-10"><use href="#Tl" x="552"/></g></g>
<g transform="translate(0,2349.7)"><g id="k45-1"><use href="#Tr" x="84"/></g><g id="k45-2"><use href="#Tr" x="136"/></g><g id="k45-3"><use href="#Tr" x="188"/></g><g id="k45-4"><use href="#Br" x="240"/></g><g id="k45-5"><use href="#Br" x="292"/></g><g id="k45-6"><use href="#Br" x="344"/></g><g id="k45-7"><use href="#Br" x="396"/></g><g id="k45-8"><use href="#Tr" x="448"/></g><g id="k45-9"><use href="#Tr" x="500"/></g><g id="k45-10"><use href="#Tr" x="552"/></g></g>
<g transform="translate(0,2401.7)"><g id="k46-1"><use href="#Tl" x="84"/></g><g id="k46-2"><use href="#Tl" x="136"/></g><g id="k46-3"><use href="#Bl" x="188"/></g><g id="k46-4"><use href="#Bl" x="240"/></g><g id="k46-5"><use href="#Cl" x="292"/></g><g id="k46-6"><use href="#Bl" x="344"/></g><g id="k46-7"><use href="#Bl" x="396"/></g><g id="k46-8"><use href="#Bl" x="448"/></g><g id="k46-9"><use href="#Tl" x="500"/></g><g id="k46-10"><use href="#Tl" x="552"/></g></g>
<g transform="translate(0,2453.7)"><g id="k47-1"><use href="#Tr" x="84"/></g><g id="k47-2"><use href="#Br" x="136"/></g><g id="k47-3"><use href="#Br" x="188"/></g><g id="k47-4"><use href="#Br" x="240"/></g><g id="k47-5"><use href="#Cr" x="292"/></g><g id="k47-6"><use href="#Br" x="344"/></g><g id="k47-7"><use href="#Br" x="396"/></g><g id="k47-8"><use href="#Br" x="448"/></g><g id="k47-9"><use href="#Br" x="500"/></g><g id="k47-10"><use href="#Tr" x="552"/></g></g>
<g transform="translate(0,2505.7)"><g id="k48-1"><use href="#Tl" x="84"/></g><g id="k48-2"><use href="#Bl" x="136"/></g><g id="k48-3"><use href="#Bl" x="188"/></g><g id="k48-4"><use href="#Bl" x="240"/></g><g id="k48-5"><use href="#Bl" x="292"/></g><g id="k48-6"><use href="#Bl" x="344"/></g><g id="k48-7"><use href="#Cl" x="396"/></g><g id="k48-8"><use href="#Cl" x="448"/></g><g id="k48-9"><use href="#Bl" x="500"/></g><g id="k48-10"><use href="#Tl" x="552"/></g></g>
<g transform="translate(0,2557.7)"><g id="k49-1"><use href="#Tr" x="84"/></g><g id="k49-2"><use href="#Br" x="136"/></g><g id="k49-3"><use href="#Cr" x="188"/></g><g id="k49-4"><use href="#Cr" x="240"/></g><g id="k49-5"><use href="#Br" x="292"/></g><g id="k49-6"><use href="#Br" x="344"/></g><g id="k49-7"><use href="#Br" x="396"/></g><g id="k49-8"><use href="#Br" x="448"/></g><g id="k49-9"><use href="#Br" x="500"/></g><g id="k49-10"><use href="#Tr" x="552"/></g></g>
<g transform="translate(0,2609.7)"><g id="k50-1"><use href="#Tl" x="84"/></g><g id="k50-2"><use href="#Bl" x="136"/></g><g id="k50-3"><use href="#Bl" x="188"/></g><g id="k50-4"><use href="#Bl" x="240"/></g><g id="k50-5"><use href="#Bl" x="292"/></g><g id="k50-6"><use href="#Cl" x="344"/></g><g id="k50-7"><use href="#Bl" x="396"/></g><g id="k50-8"><use href="#Bl" x="448"/></g><g id="k50-9"><use href="#Bl" x="500"/></g><g id="k50-10"><use href="#Tl" x="552"/></g></g>
<g transform="translate(0,2661.7)"><g id="k51-1"><use href="#Tr" x="84"/></g><g id="k51-2"><use href="#Tr" x="136"/></g><g id="k51-3"><use href="#Br" x="188"/></g><g id="k51-4"><use href="#Br" x="240"/></g><g id="k51-5"><use href="#Br" x="292"/></g><g id="k51-6"><use href="#Cr" x="344"/></g><g id="k51-7"><use href="#Br" x="396"/></g><g id="k51-8"><use href="#Br" x="448"/></g><g id="k51-9"><use href="#Tr" x="500"/></g><g id="k51-10"><use href="#Tr" x="552"/></g></g>
<g transform="translate(0,2713.7)"><g id="k52-1"><use href="#Tl" x="84"/></g><g id="k52-2"><use href="#Tl" x="136"/></g><g id="k52-3"><use href="#Tl" x="188"/></g><g id="k52-4"><use href="#Bl" x="240"/></g><g id="k52-5"><use href="#Bl" x="292"/></g><g id="k52-6"><use href="#Bl" x="344"/></g><g id="k52-7"><use href="#Bl" x="396"/></g><g id="k52-8"><use href="#Tl" x="448"/></g><g id="k52-9"><use href="#Tl" x="500"/></g><g id="k52-10"><use href="#Tl" x="552"/></g></g>
<g transform="translate(0,2765.7)"><g id="k53-1"><use href="#Tr" x="84"/></g><g id="k53-2"><use href="#Tr" x="136"/></g><g id="k53-3"><use href="#Tr" x="188"/></g><g id="k53-4"><use href="#Tr" x="240"/></g><g id="k53-5"><use href="#Tr" x="292"/></g><g id="k53-6"><use href="#Tr" x="344"/></g><g id="k53-7"><use href="#Tr" x="396"/></g><g id="k53-8"><use href="#Tr" x="448"/></g><g id="k53-9"><use href="#Tr" x="500"/></g><g id="k53-10"><use href="#Tr" x="552"/></g></g>
<g transform="translate(0,2817.7)"><g id="k54-1"><use href="#Tl" x="84"/></g><g id="k54-2"><use href="#Tl" x="136"/></g><g id="k54-3"><use href="#Tl" x="188"/></g><g id="k54-4"><use href="#Tl" x="240"/></g><g id="k54-5"><use href="#Tl" x="292"/></g><g id="k54-6"><use href="#Tl" x="344"/></g><g id="k54-7"><use href="#Tl" x="396"/></g><g id="k54-8"><use href="#Tl" x="448"/></g><g id="k54-9"><use href="#Tl" x="500"/></g><g id="k54-10"><use href="#Tl" x="552"/></g></g>
<g transform="translate(0,2869.7)"><g id="k55-1"><use href="#Tr" x="84"/></g><g id="k55-2"><use href="#Tr" x="136"/></g><g id="k55-3"><use href="#Tr" x="188"/></g><g id="k55-4"><use href="#Tr" x="240"/></g><g id="k55-5"><use href="#Tr" x="292"/></g><g id="k55-6"><use href="#Tr" x="344"/></g><g id="k55-7"><use href="#Tr" x="396"/></g><g id="k55-8"><use href="#Tr" x="448"/></g><g id="k55-9"><use href="#Tr" x="500"/></g><g id="k55-10"><use href="#Tr" x="552"/></g></g>
<g transform="translate(0,2921.7)"><g id="k56-1"><use href="#Tl" x="84"/></g><g id="k56-2"><use href="#Tl" x="136"/></g><g id="k56-3"><use href="#Tl" x="188"/></g><g id="k56-4"><use href="#Tl" x="240"/></g><g id="k56-5"><use href="#Tl" x="292"/></g><g id="k56-6"><use href="#Tl" x="344"/></g><g id="k56-7"><use href="#Tl" x="396"/></g><g id="k56-8"><use href="#Tl" x="448"/></g><g id="k56-9"><use href="#Tl" x="500"/></g><g id="k56-10"><use href="#Tl" x="552"/></g></g>
<g transform="translate(0,2973.7)"><g id="k57-1"><use href="#Tr" x="84"/></g><g id="k57-2"><use href="#Tr" x="136"/></g><g id="k57-3"><use href="#Tr" x="188"/></g><g id="k57-4"><use href="#Tr" x="240"/></g><g id="k57-5"><use href="#Tr" x="292"/></g><g id="k57-6"><use href="#Tr" x="344"/></g><g id="k57-7"><use href="#Tr" x="396"/></g><g id="k57-8"><use href="#Tr" x="448"/></g><g id="k57-9"><use href="#Tr" x="500"/></g><g id="k57-10"><use href="#Tr" x="552"/></g></g>
<g transform="translate(0,3025.7)"><g id="k58-1"><use href="#Tl" x="84"/></g><g id="k58-2"><use href="#Tl" x="136"/></g><g id="k58-3"><use href="#Tl" x="188"/></g><g id="k58-4"><use href="#Bl" x="240"/></g><g id="k58-5"><use href="#Bl" x="292"/></g><g id="k58-6"><use href="#Bl" x="344"/></g><g id="k58-7"><use href="#Bl" x="396"/></g><g id="k58-8"><use href="#Tl" x="448"/></g><g id="k58-9"><use href="#Tl" x="500"/></g><g id="k58-10"><use href="#Tl" x="552"/></g></g>
<g transform="translate(0,3077.7)"><g id="k59-1"><use href="#Tr" x="84"/></g><g id="k59-2"><use href="#Tr" x="136"/></g><g id="k59-3"><use href="#Br" x="188"/></g><g id="k59-4"><use href="#Br" x="240"/></g><g id="k59-5"><use href="#Cr" x="292"/></g><g id="k59-6"><use href="#Br" x="344"/></g><g id="k59-7"><use href="#Br" x="396"/></g><g id="k59-8"><use href="#Br" x="448"/></g><g id="k59-9"><use href="#Tr" x="500"/></g><g id="k59-10"><use href="#Tr" x="552"/></g></g>
<g transform="translate(0,3129.7)"><g id="k60-1"><use href="#Tl" x="84"/></g><g id="k60-2"><use href="#Bl" x="136"/></g><g id="k60-3"><use href="#Bl" x="188"/></g><g id="k60-4"><use href="#Bl" x="240"/></g><g id="k60-5"><use href="#Cl" x="292"/></g><g id="k60-6"><use href="#Bl" x="344"/></g><g id="k60-7"><use href="#Bl" x="396"/></g><g id="k60-8"><use href="#Bl" x="448"/></g><g id="k60-9"><use href="#Bl" x="500"/></g><g id="k60-10"><use href="#Tl" x="552"/></g></g>
<g transform="translate(0,3181.7)"><g id="k61-1"><use href="#Tr" x="84"/></g><g id="k61-2"><use href="#Br" x="136"/></g><g id="k61-3"><use href="#Br" x="188"/></g><g id="k61-4"><use href="#Br" x="240"/></g><g id="k61-5"><use href="#Br" x="292"/></g><g id="k61-6"><use href="#Br" x="344"/></g><g id="k61-7"><use href="#Cr" x="396"/></g><g id="k61-8"><use href="#Cr" x="448"/></g><g id="k61-9"><use href="#Br" x="500"/></g><g id="k61-10"><use href="#Tr" x="552"/></g></g>
<g transform="translate(0,3233.7)"><g id="k62-1"><use href="#Tl" x="84"/></g><g id="k62-2"><use href="#Bl" x="136"/></g><g id="k62-3"><use href="#Cl" x="188"/></g><g id="k62-4"><use href="#Cl" x="240"/></g><g id="k62-5"><use href="#Bl" x="292"/></g><g id="k62-6"><use href="#Bl" x="344"/></g><g id="k62-7"><use href="#Bl" x="396"/></g><g id="k62-8"><use href="#Bl" x="448"/></g><g id="k62-9"><use href="#Bl" x="500"/></g><g id="k62-10"><use href="#Tl" x="552"/></g></g>
<g transform="translate(0,3285.7)"><g id="k63-1"><use href="#Tr" x="84"/></g><g id="k63-2"><use href="#Br" x="136"/></g><g id="k63-3"><use href="#Br" x="188"/></g><g id="k63-4"><use href="#Br" x="240"/></g><g id="k63-5"><use href="#Br" x="292"/></g><g id="k63-6"><use href="#Cr" x="344"/></g><g id="k63-7"><use href="#Br" x="396"/></g><g id="k63-8"><use href="#Br" x="448"/></g><g id="k63-9"><use href="#Br" x="500"/></g><g id="k63-10"><use href="#Tr" x="552"/></g></g>
<g transform="translate(0,3337.7)"><g id="k64-1"><use href="#Tl" x="84"/></g><g id="k64-2"><use href="#Tl" x="136"/></g><g id="k64-3"><use href="#Bl" x="188"/></g><g id="k64-4"><use href="#Bl" x="240"/></g><g id="k64-5"><use href="#Bl" x="292"/></g><g id="k64-6"><use href="#Cl" x="344"/></g><g id="k64-7"><use href="#Bl" x="396"/></g><g id="k64-8"><use href="#Bl" x="448"/></g><g id="k64-9"><use href="#Tl" x="500"/></g><g id="k64-10"><use href="#Tl" x="552"/></g></g>
<g transform="translate(0,3389.7)"><g id="k65-1"><use href="#Tr" x="84"/></g><g id="k65-2"><use href="#Tr" x="136"/></g><g id="k65-3"><use href="#Tr" x="188"/></g><g id="k65-4"><use href="#Br" x="240"/></g><g id="k65-5"><use href="#Br" x="292"/></g><g id="k65-6"><use href="#Br" x="344"/></g><g id="k65-7"><use href="#Br" x="396"/></g><g id="k65-8"><use href="#Tr" x="448"/></g><g id="k65-9"><use href="#Tr" x="500"/></g><g id="k65-10"><use href="#Tr" x="552"/></g></g>
<g transform="translate(0,3441.7)"><g id="k66-1"><use href="#Tl" x="84"/></g><g id="k66-2"><use href="#Tl" x="136"/></g><g id="k66-3"><use href="#Tl" x="188"/></g><g id="k66-4"><use href="#Tl" x="240"/></g><g id="k66-5"><use href="#Tl" x="292"/></g><g id="k66-6"><use href="#Tl" x="344"/></g><g id="k66-7"><use href="#Tl" x="396"/></g><g id="k66-8"><use href="#Tl" x="448"/></g><g id="k66-9"><use href="#Tl" x="500"/></g><g id="k66-10"><use href="#Tl" x="552"/></g></g>
<g transform="translate(0,3493.7)"><g id="k67-1"><use href="#Tr" x="84"/></g><g id="k67-2"><use href="#Tr" x="136"/></g><g id="k67-3"><use href="#Tr" x="188"/></g><g id="k67-4"><use href="#Tr" x="240"/></g><g id="k67-5"><use href="#Tr" x="292"/></g><g id="k67-6"><use href="#Tr" x="344"/></g><g id="k67-7"><use href="#Tr" x="396"/></g><g id="k67-8"><use href="#Tr" x="448"/></g><g id="k67-9"><use href="#Tr" x="500"/></g><g id="k67-10"><use href="#Tr" x="552"/></g></g>
<g transform="translate(0,3545.7)"><g id="k68-1"><use href="#Tl" x="84"/></g><g id="k68-2"><use href="#Tl" x="136"/></g><g id="k68-3"><use href="#Tl" x="188"/></g><g id="k68-4"><use href="#Tl" x="240"/></g><g id="k68-5"><use href="#Tl" x="292"/></g><g id="k68-6"><use href="#Tl" x="344"/></g><g id="k68-7"><use href="#Tl" x="396"/></g><g id="k68-8"><use href="#Tl" x="448"/></g><g id="k68-9"><use href="#Tl" x="500"/></g><g id="k68-10"><use href="#Tl" x="552"/></g></g>
<g transform="translate(0,3597.7)"><g id="k69-1"><use href="#Tr" x="84"/></g><g id="k69-2"><use href="#Tr" x="136"/></g><g id="k69-3"><use href="#Tr" x="188"/></g><g id="k69-4"><use href="#Tr" x="240"/></g><g id="k69-5"><use href="#Tr" x="292"/></g><g id="k69-6"><use href="#Tr" x="344"/></g><g id="k69-7"><use href="#Tr" x="396"/></g><g id="k69-8"><use href="#Tr" x="448"/></g><g id="k69-9"><use href="#Tr" x="500"/></g><g id="k69-10"><use href="#Tr" x="552"/></g></g>
<g transform="translate(0,3649.7)"><g id="k70-1"><use href="#Tl" x="84"/></g><g id="k70-2"><use href="#Tl" x="136"/></g><g id="k70-3"><use href="#Tl" x="188"/></g><g id="k70-4"><use href="#Tl" x="240"/></g><g id="k70-5"><use href="#Tl" x="292"/></g><g id="k70-6"><use href="#Tl" x="344"/></g><g id="k70-7"><use href="#Tl" x="396"/></g><g id="k70-8"><use href="#Tl" x="448"/></g><g id="k70-9"><use href="#Tl" x="500"/></g><g id="k70-10"><use href="#Tl" x="552"/></g></g>
</g>
<text class="wm" x="318" y="1861.5" text-anchor="middle" textLength="155" lengthAdjust="spacingAndGlyphs">BRACELETBOOK.COM</text>
</svg>
